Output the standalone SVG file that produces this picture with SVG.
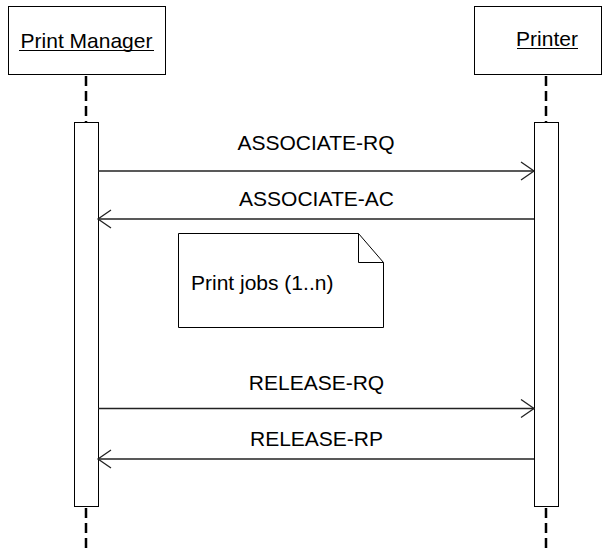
<svg xmlns="http://www.w3.org/2000/svg" width="606" height="553" viewBox="0 0 606 553">
<defs>
<style>
.box{fill:#fff;stroke:#000;stroke-width:1}
.life{stroke:#000;stroke-width:2.5;stroke-dasharray:10 5;fill:none}
.msg{stroke:#222;stroke-width:1.3;fill:none}
.t{font-family:"Liberation Sans",Arial,sans-serif;font-size:21px;fill:#000}
</style>
<marker id="open" markerWidth="16" markerHeight="22" refX="14" refY="10" orient="auto" markerUnits="userSpaceOnUse">
<path d="M1,1 L14,10 L1,19" fill="none" stroke="#222" stroke-width="1.3"/>
</marker>
</defs>
<rect width="606" height="553" fill="#fff"/>
<g id="print-manager">
<rect class="box" x="8.5" y="6.5" width="157" height="68"/>
<text class="t" x="86.5" y="48" text-anchor="middle">Print Manager</text>
<line x1="19" y1="50.5" x2="154" y2="50.5" stroke="#000" stroke-width="1.2"/>
<line class="life" x1="86" y1="76" x2="86" y2="122"/>
<rect class="box" x="74.5" y="122.5" width="24" height="384"/>
<line class="life" x1="86" y1="508" x2="86" y2="553"/>
</g>
<g id="printer">
<rect class="box" x="474.5" y="6.5" width="127" height="68"/>
<text class="t" x="547" y="46" text-anchor="middle">Printer</text>
<line x1="517" y1="48.5" x2="578" y2="48.5" stroke="#000" stroke-width="1.2"/>
<line class="life" x1="546" y1="76" x2="546" y2="122"/>
<rect class="box" x="534.5" y="122.5" width="24" height="384"/>
<line class="life" x1="546" y1="508" x2="546" y2="553"/>
</g>
<g id="note">
<path class="box" d="M178.5,233.5 L358.5,233.5 L383.5,262.5 L383.5,327.5 L178.5,327.5 Z"/>
<path d="M358.5,233.5 L358.5,262.5 L383.5,262.5" fill="none" stroke="#000" stroke-width="1"/>
<text class="t" x="191" y="290">Print jobs (1..n)</text>
</g>
<g id="connectors">
<line class="msg" x1="98" y1="171" x2="534" y2="171" marker-end="url(#open)"/>
<line class="msg" x1="534" y1="219" x2="98" y2="219" marker-end="url(#open)"/>
<line class="msg" x1="98" y1="408.5" x2="534" y2="408.5" marker-end="url(#open)"/>
<line class="msg" x1="534" y1="459" x2="98" y2="459" marker-end="url(#open)"/>
<text class="t" x="316" y="150" text-anchor="middle">ASSOCIATE-RQ</text>
<text class="t" x="316.5" y="206" text-anchor="middle">ASSOCIATE-AC</text>
<text class="t" x="316.5" y="390" text-anchor="middle">RELEASE-RQ</text>
<text class="t" x="316.5" y="446" text-anchor="middle">RELEASE-RP</text>
</g>
</svg>
